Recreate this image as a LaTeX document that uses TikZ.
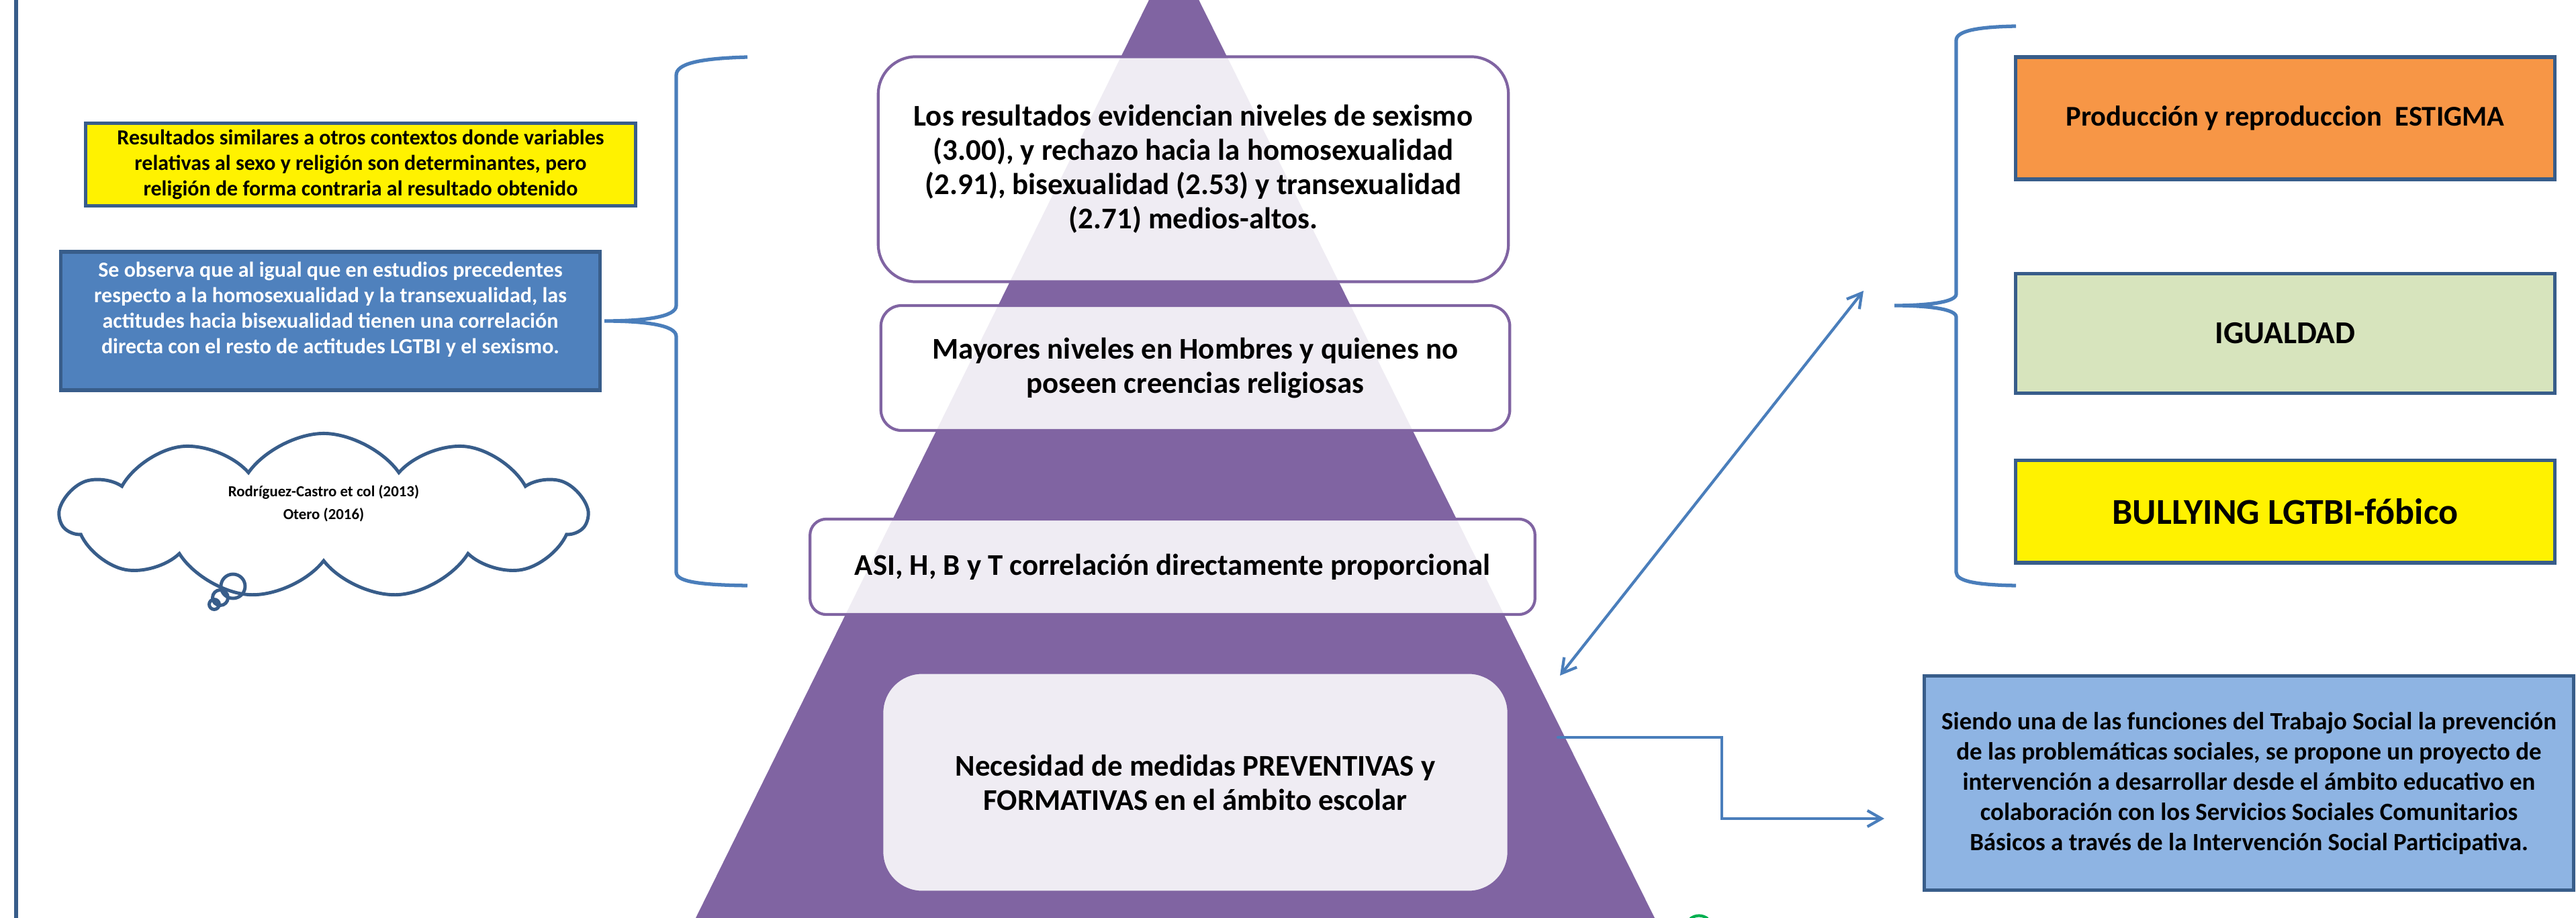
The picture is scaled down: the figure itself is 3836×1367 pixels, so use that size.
\documentclass[tikz,border=0pt]{standalone}
\usepackage{fontspec}
\setmainfont{Carlito}
\usetikzlibrary{positioning,shapes.symbols,arrows.meta}

\definecolor{pyrpurple}{HTML}{8064A2}
\definecolor{boxborder}{HTML}{385D8A}
\definecolor{linkblue}{HTML}{4A7EBB}
\definecolor{obsblue}{HTML}{4F81BD}
\definecolor{estorange}{HTML}{F79646}
\definecolor{igualgreen}{HTML}{D7E4BD}
\definecolor{socialblue}{HTML}{8EB4E3}
\definecolor{bubblegreen}{HTML}{00B050}

\tikzset{
  pyrbox/.style={draw=pyrpurple, line width=1.2pt, fill=white, fill opacity=0.88, text opacity=1,
    align=center, inner sep=0pt, font=\bfseries\fontsize{12.75}{14.5}\selectfont},
  notebox/.style={draw=boxborder, line width=1.5pt, align=center, inner sep=0pt,
    font=\bfseries\fontsize{9.1}{10.8}\selectfont},
  sidebox/.style={draw=boxborder, line width=1.5pt, align=center, inner sep=0pt, minimum width=8.02cm},
  brace/.style={draw=linkblue, line width=1.5pt},
  link/.style={draw=linkblue, line width=1.2pt, line cap=round},
}

\begin{document}
\begin{tikzpicture}[x=0.01cm, y=-0.01cm, >={Straight Barb[length=0.21cm, width=0.24cm]}]
    \useasboundingbox (0,0) rectangle (3836,1367);
    \clip (0,0) rectangle (3836,1367);

    \draw[boxborder, line width=1.7pt] (24,-10) -- (24,1377);
    \fill[pyrpurple] (1748,-75) -- (2464,1367) -- (1036,1367) -- cycle;
    \draw[bubblegreen, line width=1.2pt] (2517,1368) .. controls (2525,1362) and (2535,1362) .. (2543,1368);

    % pyramid levels
    \node[pyrbox, minimum width=9.38cm, minimum height=3.35cm, rounded corners=0.56cm] (results) at (1777,252)
        {Los resultados evidencian niveles de sexismo\\(3.00), y rechazo hacia la homosexualidad\\(2.91), bisexualidad (2.53) y transexualidad\\(2.71) medios-altos.};
    \node[pyrbox, minimum width=9.36cm, minimum height=1.86cm, rounded corners=0.31cm] (levels) at (1780,548)
        {Mayores niveles en Hombres y quienes no\\poseen creencias religiosas};
    \node[pyrbox, minimum width=10.79cm, minimum height=1.42cm, rounded corners=0.24cm] (corr) at (1746,844)
        {ASI, H, B y T correlación directamente proporcional};
    \node[pyrbox, minimum width=9.33cm, minimum height=3.27cm, rounded corners=0.6cm] (needs) at (1780,1165)
        {Necesidad de medidas PREVENTIVAS y\\FORMATIVAS en el ámbito escolar};

    % left side
    \node[notebox, fill=yellow, minimum width=8.19cm, minimum height=1.23cm] (similar) at (537,245)
        {Resultados similares a otros contextos donde variables\\relativas al sexo y religión son determinantes, pero\\religión de forma contraria al resultado obtenido};
    \node[notebox, fill=obsblue, text=white, minimum width=8.03cm, minimum height=2.06cm] (observe) at (492,478)
        {Se observa que al igual que en estudios precedentes\\respecto a la homosexualidad y la transexualidad, las\\actitudes hacia bisexualidad tienen una correlación\\directa con el resto de actitudes LGTBI y el sexismo.\\[0.2mm]\mbox{}};
    \node[cloud, draw=boxborder, line width=1.4pt, fill=white, cloud puffs=11, cloud puff arc=110, aspect=3.4,
        minimum width=7.82cm, minimum height=2.45cm, align=center,
        font=\bfseries\fontsize{6.5}{9.6}\selectfont] (refs) at (482,768)
        {Rodríguez-Castro et col (2013)\\Otero (2016)\\[1.7pt]\mbox{}};
    \draw[boxborder, line width=1.4pt] (347,873) circle[radius=0.18cm]
        (328,890) circle[radius=0.115cm] (319,900) circle[radius=0.075cm];
    \draw[brace] (1113,85) .. controls (1040,87) and (1007,95) .. (1007,112) -- (1007,455)
        .. controls (1007,472) and (960,478) .. (900,478) .. controls (960,478) and (1007,484) .. (1007,501)
        -- (1007,852) .. controls (1007,866) and (1040,871) .. (1113,872);

    % right side
    \node[sidebox, fill=estorange, minimum height=1.82cm, font=\bfseries\fontsize{12.1}{14}\selectfont] (stigma) at (3403,176)
        {Producción y reproduccion\ \ ESTIGMA};
    \node[sidebox, fill=igualgreen, minimum height=1.78cm, below=1.35cm of stigma, font=\bfseries\fontsize{13.5}{16}\selectfont] (equality)
        {IGUALDAD};
    \node[sidebox, fill=yellow, minimum height=1.52cm, below=0.95cm of equality, font=\bfseries\fontsize{15.4}{18}\selectfont] (bullying)
        {BULLYING LGTBI-fóbico};
    \draw[brace] (3002,39) .. controls (2945,40) and (2913,46) .. (2913,60) -- (2913,438)
        .. controls (2913,450) and (2870,455) .. (2821,455) .. controls (2870,455) and (2913,460) .. (2913,472)
        -- (2913,852) .. controls (2913,866) and (2945,871) .. (3002,872);
    \node[sidebox, fill=socialblue, minimum width=9.66cm, minimum height=3.19cm, font=\bfseries\fontsize{10.5}{12.8}\selectfont] (social) at (3349,1166)
        {Siendo una de las funciones del Trabajo Social la prevención\\de las problemáticas sociales, se propone un proyecto de\\intervención a desarrollar desde el ámbito educativo en\\colaboración con los Servicios Sociales Comunitarios\\Básicos a través de la Intervención Social Participativa.};

    \coordinate (bracetip) at (2775,433);
    \coordinate (pyrside) at (2323,1006);
    \coordinate (edgeout) at (2320,1098);
    \coordinate (socialin) at (2806,1219);
    \draw[link, <->] (bracetip) -- (pyrside);
    \draw[link, ->] (edgeout) -- (2564,1098) |- (socialin);
\end{tikzpicture}
\end{document}
